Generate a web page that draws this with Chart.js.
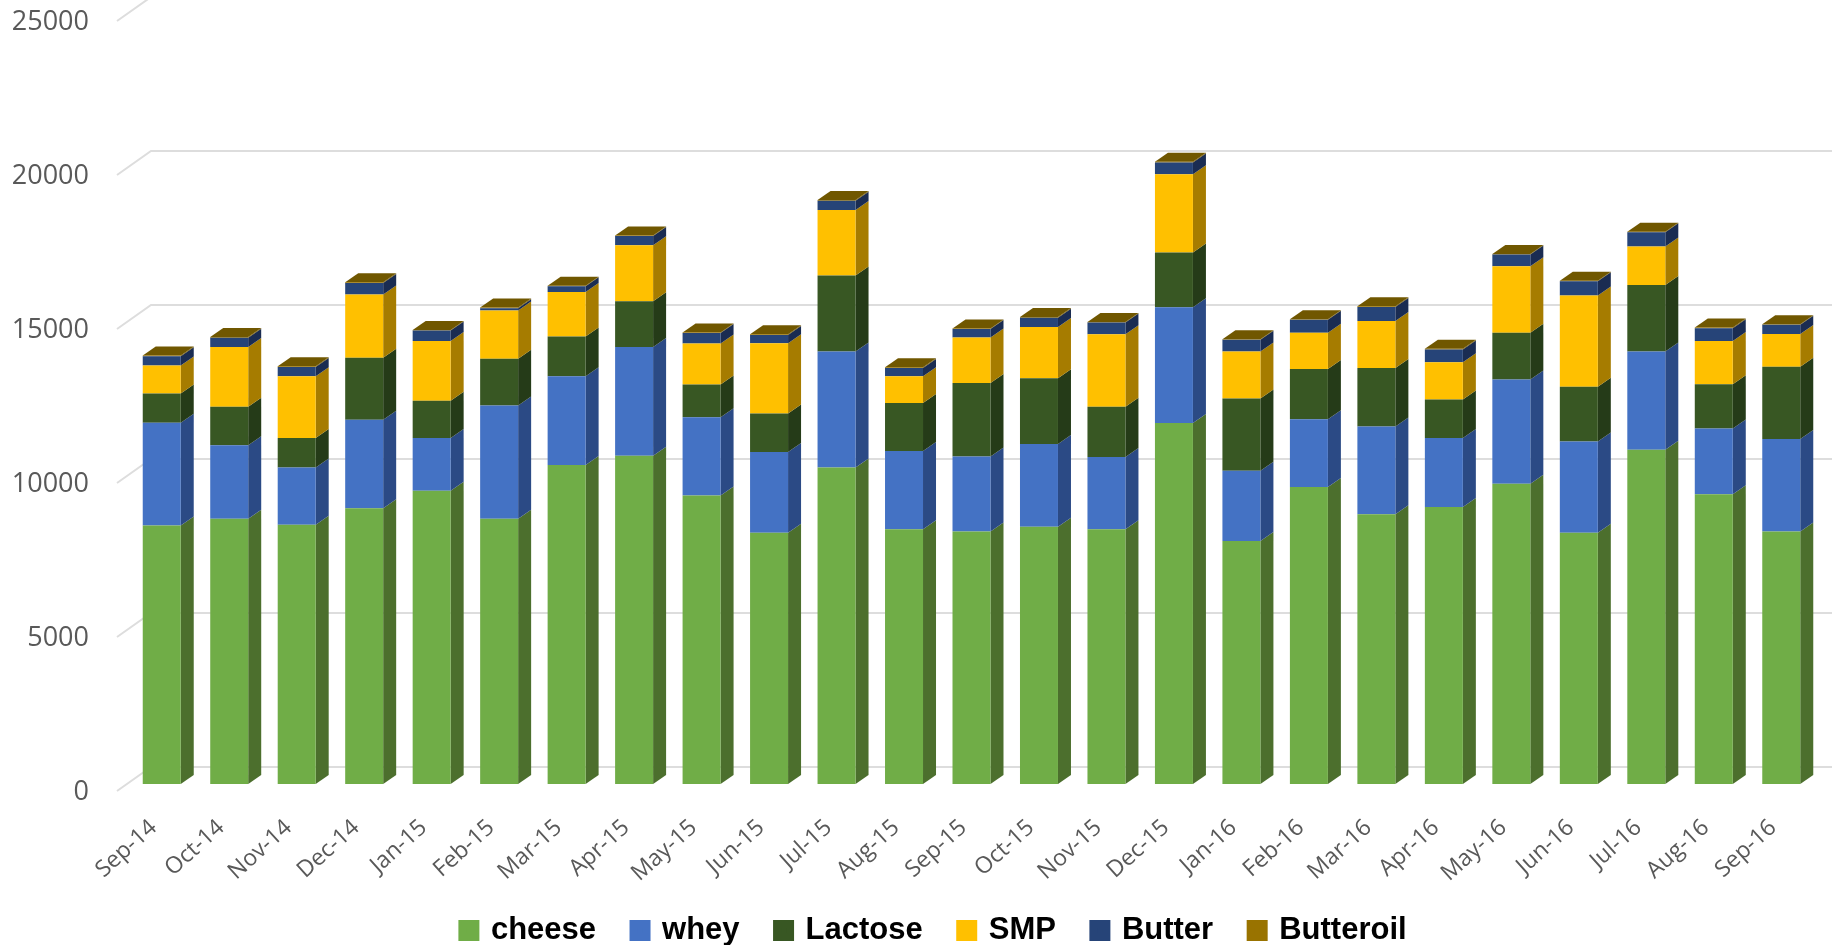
<!DOCTYPE html>
<html><head><meta charset="utf-8">
<style>html,body{margin:0;padding:0;background:#fff}#w{width:1832px;height:945px}canvas{display:block}</style>
<script src="https://cdn.jsdelivr.net/npm/chart.js@4"></script>
</head><body><div id="w"><canvas id="c" width="1832" height="945"></canvas></div>
<script>
const categories=['Sep-14','Oct-14','Nov-14','Dec-14','Jan-15','Feb-15','Mar-15','Apr-15','May-15','Jun-15','Jul-15','Aug-15','Sep-15','Oct-15','Nov-15','Dec-15','Jan-16','Feb-16','Mar-16','Apr-16','May-16','Jun-16','Jul-16','Aug-16','Sep-16'];
const cheese=[8390,8610,8420,8950,9520,8610,10360,10660,9370,8160,10280,8270,8200,8350,8270,11720,7890,9640,8760,8990,9750,8160,10850,9410,8200];
const whey=[3340,2390,1860,2880,1710,3680,2880,3530,2540,2620,3760,2540,2430,2690,2350,3760,2280,2200,2850,2240,3380,2960,3190,2130,3000];
const lactose=[950,1250,950,2010,1210,1520,1290,1480,1060,1250,2470,1560,2390,2130,1630,1780,2350,1630,1900,1250,1520,1780,2160,1440,2350];
const smp=[910,1940,2010,2050,1940,1560,1440,1820,1330,2280,2130,870,1480,1670,2350,2540,1520,1180,1520,1210,2160,2960,1250,1400,1060];
const butter=[300,300,300,380,340,80,190,300,340,270,300,270,270,300,380,380,380,420,460,420,380,460,460,420,300];
const butteroil=[20,20,20,20,20,20,20,20,20,20,20,20,20,20,20,20,20,20,20,20,20,20,20,20,20];
const seriesNames=['cheese','whey','Lactose','SMP','Butter','Butteroil'];
const seriesValues=[cheese,whey,lactose,smp,butter,butteroil];
const frontColors=['#70AD47','#4472C4','#385723','#FFC000','#264478','#997300'];
const sideColors=['#4C6F2D','#2B4A85','#253B18','#A67C00','#1A2C52','#6B5100'];
const topColor='#705700';
const gridValues=[0,5000,10000,15000,20000,25000];
const DX=13,DY=9,WALLX=34,WALLY=17,FRONTDROP=7,FRONTX=117,LABELDROP=8.5;
const PXPER=0.0308,AREA_TOP=10,AREA_BOTTOM=800,ZERO_Y=784;

const solid3d={
  id:'solid3d',
  beforeDatasetsDraw(chart){
    const {ctx,scales:{y,x}}=chart;
    ctx.save();ctx.strokeStyle='#DDDDDD';ctx.lineWidth=2;
    gridValues.forEach(v=>{
      const p=y.getPixelForValue(v);
      ctx.beginPath();
      ctx.moveTo(FRONTX,p+FRONTDROP);
      ctx.lineTo(FRONTX+WALLX,p-WALLY);
      ctx.lineTo(chart.width,p-WALLY);
      ctx.stroke();
    });
    const n=chart.data.labels.length;
    for(let i=0;i<n;i++){
      chart.data.datasets.forEach((ds,d)=>{
        const b=chart.getDatasetMeta(d).data[i];
        const r=b.x+b.width/2,l=b.x-b.width/2,t=b.y,bt=b.base;
        ctx.fillStyle=sideColors[d];
        ctx.beginPath();ctx.moveTo(r,bt);ctx.lineTo(r+DX,bt-DY);ctx.lineTo(r+DX,t-DY);ctx.lineTo(r,t);ctx.closePath();ctx.fill();
        if(d===chart.data.datasets.length-1){
          ctx.fillStyle=topColor;
          ctx.beginPath();ctx.moveTo(l,t);ctx.lineTo(r,t);ctx.lineTo(r+DX,t-DY);ctx.lineTo(l+DX,t-DY);ctx.closePath();ctx.fill();
        }
      });
    }
    ctx.restore();
  },
  afterLayout(chart){
    const lg=chart.legend;
    const pad=lg.options.labels.padding;
    const shift=54;
    lg.left+=shift;lg.width-=shift;
    const h=lg.height;
    lg.top=915-pad;lg.bottom=lg.top+h;
    lg.adjustHitBoxes();
  }
};
const noPad=s=>{s.paddingTop=0;s.paddingBottom=0;s.paddingLeft=0;s.paddingRight=0;};

new Chart(document.getElementById('c'),{
  type:'bar',
  data:{labels:categories,datasets:seriesNames.map((n,i)=>({
    label:n,data:seriesValues[i],backgroundColor:frontColors[i],borderWidth:0,
    categoryPercentage:1,barPercentage:0.563,yAxisID:'y',stack:'s'
  }))},
  plugins:[solid3d],
  options:{
    responsive:false,animation:false,
    layout:{padding:{left:0,right:17,top:AREA_TOP,bottom:-46.5}},
    plugins:{
      title:{display:false},tooltip:{enabled:false},
      legend:{display:true,position:'bottom',labels:{
        color:'#000',font:{family:'"Liberation Sans"',size:31,weight:'bold'},
        boxWidth:13,boxHeight:13,padding:37.5,
        generateLabels(chart){return chart.data.datasets.map((ds,i)=>({text:ds.label,fillStyle:ds.backgroundColor,strokeStyle:ds.backgroundColor,lineWidth:8,datasetIndex:i,fontColor:'#000'}));}
      }}
    },
    scales:{
      x:{stacked:true,position:'bottom',grid:{display:false},border:{display:false},
        afterFit(s){s.height=113;noPad(s);},
        ticks:{autoSkip:false,maxRotation:42,minRotation:42,padding:6,labelOffset:-8,color:'#595959',font:{family:'"Open Sans"',size:23}}},
      y:{stacked:true,display:false,min:-(AREA_BOTTOM-ZERO_Y)/PXPER,max:(ZERO_Y-AREA_TOP)/PXPER},
      yl:{position:'left',min:-(AREA_BOTTOM-ZERO_Y-LABELDROP)/PXPER,max:(ZERO_Y+LABELDROP-AREA_TOP)/PXPER,
        grid:{display:false},border:{display:false},
        afterFit(s){s.width=128;noPad(s);},
        afterBuildTicks(s){s.ticks=gridValues.map(v=>({value:v}));},
        ticks:{padding:31,color:'#595959',font:{family:'"Open Sans"',size:27},callback:v=>String(v)}}
    }
  }
});
</script></body></html>
